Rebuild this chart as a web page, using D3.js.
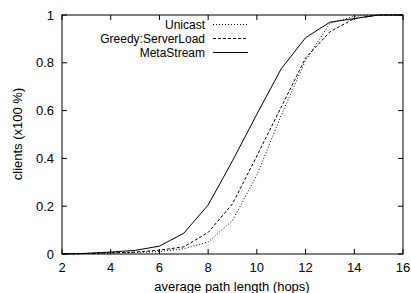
<!DOCTYPE html>
<html>
<head>
<meta charset="utf-8" />
<script src="https://cdn.jsdelivr.net/npm/d3@7/dist/d3.min.js"></script>
<style>
    html, body { margin: 0; padding: 0; background: #fff; }
    text { font-family: "Liberation Sans", Arial, sans-serif; font-size: 13px; fill: #000; }
    text.legend { font-size: 12px; }
</style>
</head>
<body>
<script>
    var hops = [2, 3, 4, 5, 6, 7, 8, 9, 10, 11, 12, 13, 14, 15, 16];
    var unicast = [0, 0.002, 0.004, 0.006, 0.01, 0.022, 0.05, 0.14, 0.33, 0.58, 0.81, 0.965, 0.995, 1, 1];
    var greedy = [0, 0.002, 0.005, 0.008, 0.016, 0.03, 0.09, 0.21, 0.41, 0.615, 0.82, 0.93, 0.985, 1, 1];
    var meta = [0, 0.003, 0.008, 0.015, 0.033, 0.087, 0.205, 0.39, 0.585, 0.775, 0.905, 0.97, 0.985, 1, 1];
    var seriesNames = ['Unicast', 'Greedy:ServerLoad', 'MetaStream'];
    var xTicks = [2, 4, 6, 8, 10, 12, 14, 16];
    var yTicks = [0, 0.2, 0.4, 0.6, 0.8, 1];

    var width = 411, height = 293;
    var svg = d3.select('body').append('svg').attr('width', width).attr('height', height);

    var x = d3.scaleLinear().domain([2, 16]).range([62, 403]);
    var y = d3.scaleLinear().domain([0, 1]).range([254, 15]);

    // 边框
    svg.append('rect').attr('x', 62).attr('y', 15).attr('width', 341).attr('height', 239)
        .attr('fill', 'none').attr('stroke', '#000').attr('stroke-width', 1);

    // 刻度 (向内, 四边)
    var tl = 5;
    xTicks.forEach(function (t) {
        svg.append('line').attr('x1', x(t)).attr('x2', x(t)).attr('y1', 254).attr('y2', 254 - tl).attr('stroke', '#000');
        svg.append('line').attr('x1', x(t)).attr('x2', x(t)).attr('y1', 15).attr('y2', 15 + tl).attr('stroke', '#000');
        svg.append('text').attr('x', x(t)).attr('y', 272).attr('text-anchor', 'middle').text(t);
    });
    yTicks.forEach(function (t) {
        svg.append('line').attr('x1', 62).attr('x2', 62 + tl).attr('y1', y(t)).attr('y2', y(t)).attr('stroke', '#000');
        svg.append('line').attr('x1', 403).attr('x2', 403 - tl).attr('y1', y(t)).attr('y2', y(t)).attr('stroke', '#000');
        svg.append('text').attr('x', 54).attr('y', y(t) + 4.5).attr('text-anchor', 'end').text(t);
    });

    svg.append('text').attr('x', 232).attr('y', 291).attr('text-anchor', 'middle').text('average path length (hops)');
    svg.append('text').attr('transform', 'translate(22,134) rotate(-90)').attr('text-anchor', 'middle').text('clients (x100 %)');

    var series = [
        { name: seriesNames[0], values: unicast, dash: '1,2' },
        { name: seriesNames[1], values: greedy, dash: '3,2' },
        { name: seriesNames[2], values: meta, dash: null }
    ];

    var line = d3.line().x(function (d, i) { return x(hops[i]); }).y(function (d) { return y(d); });

    series.forEach(function (s, k) {
        svg.append('path').attr('d', line(s.values)).attr('fill', 'none')
            .attr('stroke', '#000').attr('stroke-width', 1)
            .attr('stroke-dasharray', s.dash);
        var ly = 24.5 + k * 14;
        svg.append('text').attr('class', 'legend').attr('x', 205).attr('y', ly + 4)
            .attr('text-anchor', 'end').text(s.name);
        svg.append('line').attr('x1', 213).attr('x2', 248).attr('y1', ly).attr('y2', ly)
            .attr('stroke', '#000').attr('stroke-width', 1).attr('stroke-dasharray', s.dash);
    });
</script>
</body>
</html>
